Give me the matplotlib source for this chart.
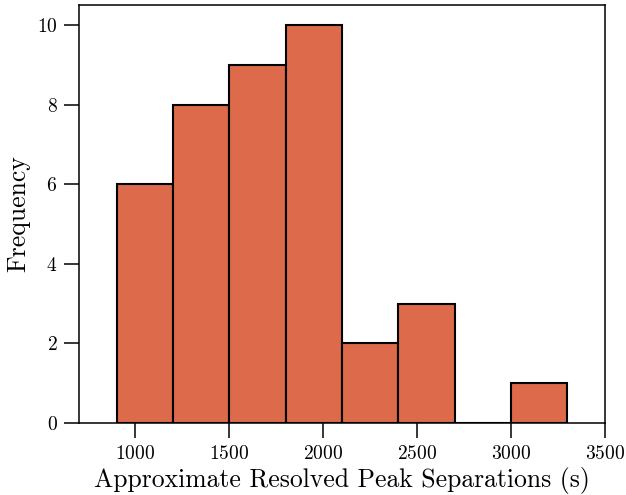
import numpy as np
import matplotlib
matplotlib.use("Agg")
import matplotlib.pyplot as plt

## histogram counts (bin width 300 s)

bin_edges = [900, 1200, 1500, 1800, 2100, 2400, 2700, 3000, 3300]
counts = [6, 8, 9, 10, 2, 3, 0, 1]
x_ticks = [1000, 1500, 2000, 2500, 3000, 3500]
y_ticks = [0, 2, 4, 6, 8, 10]

plt.rcParams["font.family"] = "serif"
plt.rcParams["font.serif"] = ["cmr10"]
plt.rcParams["mathtext.fontset"] = "cm"
plt.rcParams["axes.formatter.use_mathtext"] = True

fig = plt.figure(figsize=(6.26, 4.95), dpi=100)
ax = fig.add_axes([79/626, 72/495, 526/626, 418/495])

ax.hist(bin_edges[:-1], bins=bin_edges, weights=counts,
        color="#DD6A4A", edgecolor="black", linewidth=1.5)

ax.set_xlim(700, 3500)
ax.set_ylim(0, 10.5)
ax.set_xticks(x_ticks)
ax.set_yticks(y_ticks)
ax.tick_params(direction="out", length=10.5, width=1.1, labelsize=14, pad=5)
for s in ax.spines.values():
    s.set_linewidth(1.1)

ax.set_xlabel("Approximate Resolved Peak Separations (s)", fontsize=18.5, labelpad=3)
ax.set_ylabel("Frequency", fontsize=18.5, labelpad=5)

fig.savefig("out.png", dpi=100)
